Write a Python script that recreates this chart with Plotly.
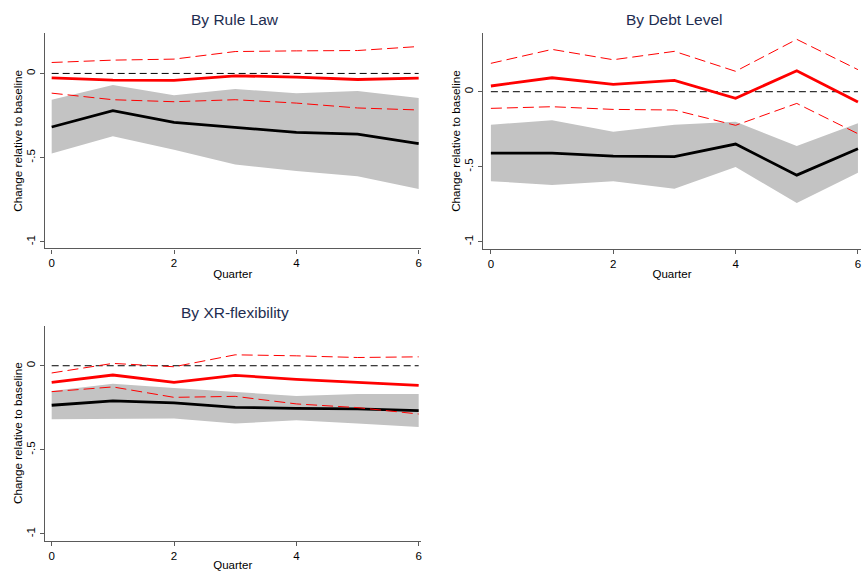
"""Impulse responses by country group: change relative to baseline."""

import plotly.graph_objects as go

quarters = [0, 1, 2, 3, 4, 5, 6]

# By Rule Law
rule_black = [-0.318, -0.221, -0.290, -0.318, -0.350, -0.360, -0.417]
rule_band_hi = [-0.156, -0.069, -0.130, -0.093, -0.117, -0.105, -0.146]
rule_band_lo = [-0.476, -0.373, -0.453, -0.540, -0.580, -0.610, -0.686]
rule_red = [-0.026, -0.040, -0.041, -0.014, -0.022, -0.036, -0.028]
rule_red_hi = [0.065, 0.079, 0.085, 0.130, 0.134, 0.136, 0.160]
rule_red_lo = [-0.117, -0.156, -0.168, -0.156, -0.176, -0.205, -0.217]

# By Debt Level
debt_black = [-0.409, -0.409, -0.429, -0.433, -0.349, -0.556, -0.380]
debt_band_hi = [-0.220, -0.191, -0.267, -0.220, -0.200, -0.362, -0.211]
debt_band_lo = [-0.596, -0.622, -0.596, -0.647, -0.502, -0.742, -0.540]
debt_red = [0.038, 0.093, 0.049, 0.076, -0.044, 0.140, -0.069]
debt_red_hi = [0.189, 0.282, 0.213, 0.269, 0.136, 0.349, 0.147]
debt_red_lo = [-0.111, -0.100, -0.118, -0.122, -0.224, -0.078, -0.280]

# By XR-flexibility
xr_black = [-0.235, -0.209, -0.221, -0.247, -0.253, -0.257, -0.267]
xr_band_hi = [-0.150, -0.107, -0.132, -0.156, -0.180, -0.168, -0.168]
xr_band_lo = [-0.318, -0.314, -0.314, -0.344, -0.324, -0.344, -0.364]
xr_red = [-0.099, -0.055, -0.099, -0.057, -0.081, -0.097, -0.117]
xr_red_hi = [-0.043, 0.014, -0.006, 0.065, 0.059, 0.049, 0.053]
xr_red_lo = [-0.154, -0.126, -0.188, -0.182, -0.227, -0.249, -0.287]

zero_line = [0, 0, 0, 0, 0, 0, 0]

y_ticks = [-1, -0.5, 0]
y_ticktext = ["-1", "-.5", "0"]
x_ticks = [0, 2, 4, 6]

FONT = "Liberation Sans, Arial, sans-serif"
TITLE_COLOR = "#1e2d50"
AXIS_COLOR = "#5a5a5a"
BAND_COLOR = "#c3c3c3"

panels = [
    dict(title="By Rule Law", black=rule_black, hi=rule_band_hi, lo=rule_band_lo,
         red=rule_red, red_hi=rule_red_hi, red_lo=rule_red_lo,
         xdom=[45 / 862, 421 / 862], ydom=[1 - 249.3 / 571, 1 - 33.3 / 571],
         yrange=[-1.039, 0.239], xrange=[-0.11, 6.03], title_x=235.5, title_y=20),
    dict(title="By Debt Level", black=debt_black, hi=debt_band_hi, lo=debt_band_lo,
         red=debt_red, red_hi=debt_red_hi, red_lo=debt_red_lo,
         xdom=[483.5 / 862, 1.0], ydom=[1 - 249.7 / 571, 1 - 33.3 / 571],
         yrange=[-1.047, 0.39], xrange=[-0.13, 6.05], title_x=675, title_y=20),
    dict(title="By XR-flexibility", black=xr_black, hi=xr_band_hi, lo=xr_band_lo,
         red=xr_red, red_hi=xr_red_hi, red_lo=xr_red_lo,
         xdom=[45 / 862, 421 / 862], ydom=[1 - 542.7 / 571, 1 - 326.7 / 571],
         yrange=[-1.041, 0.239], xrange=[-0.11, 6.03], title_x=235.5, title_y=314),
]

fig = go.Figure()
layout = {}

for i, p in enumerate(panels, start=1):
    xa = "x" if i == 1 else f"x{i}"
    ya = "y" if i == 1 else f"y{i}"

    # confidence band (gray)
    fig.add_trace(go.Scatter(x=quarters, y=p["lo"], mode="lines", line=dict(width=0),
                             xaxis=xa, yaxis=ya, showlegend=False, hoverinfo="skip"))
    fig.add_trace(go.Scatter(x=quarters, y=p["hi"], mode="lines", line=dict(width=0),
                             fill="tonexty", fillcolor=BAND_COLOR,
                             xaxis=xa, yaxis=ya, showlegend=False, hoverinfo="skip"))
    fig.add_trace(go.Scatter(x=quarters, y=p["black"], mode="lines",
                             line=dict(color="black", width=2.8),
                             xaxis=xa, yaxis=ya, showlegend=False))
    # zero reference
    fig.add_trace(go.Scatter(x=quarters, y=zero_line, mode="lines",
                             line=dict(color="black", width=1, dash="7px,4px"),
                             xaxis=xa, yaxis=ya, showlegend=False, hoverinfo="skip"))
    # red estimate with dashed bounds
    for band in (p["red_hi"], p["red_lo"]):
        fig.add_trace(go.Scatter(x=quarters, y=band, mode="lines",
                                 line=dict(color="red", width=1, dash="11px,5px"),
                                 xaxis=xa, yaxis=ya, showlegend=False))
    fig.add_trace(go.Scatter(x=quarters, y=p["red"], mode="lines",
                             line=dict(color="red", width=2.8),
                             xaxis=xa, yaxis=ya, showlegend=False))

    xkey = "xaxis" if i == 1 else f"xaxis{i}"
    ykey = "yaxis" if i == 1 else f"yaxis{i}"
    layout[xkey] = dict(
        domain=p["xdom"], range=p["xrange"], anchor=ya,
        tickvals=x_ticks, ticks="outside", ticklen=4, tickwidth=1, tickcolor=AXIS_COLOR,
        showline=True, linecolor=AXIS_COLOR, linewidth=1.2, showgrid=False, zeroline=False,
        tickfont=dict(size=11.5, color="black"),
        title=dict(text="Quarter", font=dict(size=11.5, color="black"), standoff=1),
    )
    layout[ykey] = dict(
        domain=p["ydom"], range=p["yrange"], anchor=xa,
        tickvals=y_ticks, ticktext=y_ticktext, tickangle=-90,
        ticks="outside", ticklen=4, tickwidth=1, tickcolor=AXIS_COLOR,
        showline=True, linecolor=AXIS_COLOR, linewidth=1.2, showgrid=False, zeroline=False,
        tickfont=dict(size=11.5, color="black"),
        title=dict(text="Change relative to baseline", font=dict(size=11.7, color="black"), standoff=0),
    )

    fig.add_annotation(text=p["title"], x=p["title_x"] / 862, y=1 - p["title_y"] / 571,
                       xref="paper", yref="paper", showarrow=False,
                       xanchor="center", yanchor="middle",
                       font=dict(size=15.5, color=TITLE_COLOR))

fig.update_layout(
    **layout,
    width=862,
    height=571,
    margin=dict(l=0, r=0, t=0, b=0),
    paper_bgcolor="white",
    plot_bgcolor="white",
    font=dict(family=FONT, color="black"),
    showlegend=False,
)

# drop the browser's default body margin so the figure sits flush in the window
fig.write_html("out.html", config={"displayModeBar": False},
               post_script="document.body.style.margin='0';")
